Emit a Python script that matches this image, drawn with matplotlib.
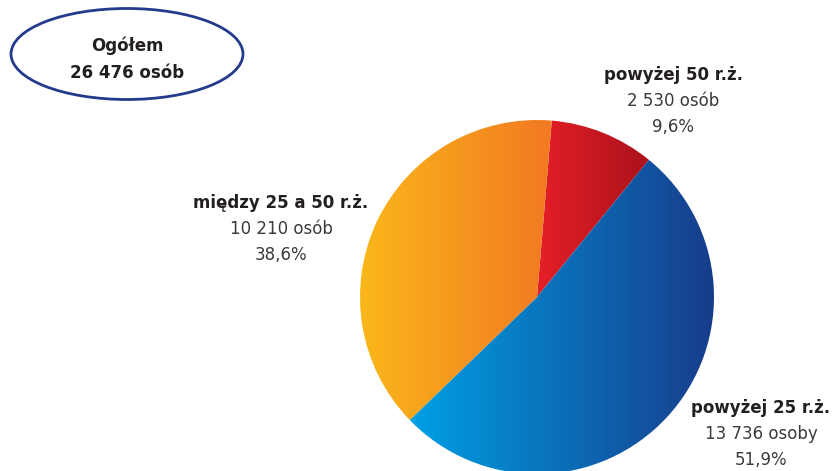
import matplotlib
matplotlib.use('Agg')
import matplotlib.pyplot as plt
import numpy as np
from matplotlib.colors import LinearSegmentedColormap
from matplotlib.patches import Ellipse

plt.rcParams['font.family'] = ['DejaVu Sans']

# data, in pie order (clockwise from the top)
GROUPS = ['powyżej 50 r.ż.', 'powyżej 25 r.ż.', 'między 25 a 50 r.ż.']
COUNTS = [2530, 13736, 10210]
COUNT_TEXT = ['2 530 osób', '13 736 osoby', '10 210 osób']
PERCENT_TEXT = ['9,6%', '51,9%', '38,6%']
TOTAL_TEXT = ['Ogółem', '26 476 osób']

# horizontal gradient (left colour, right colour) per slice
GRADIENTS = [('#e51f27', '#ab121b'), ('#00a0e4', '#173c8b'), ('#fab71a', '#f27922')]
# label anchor (x, y of first line) in pixel coords, y measured up
LABEL_POS = [(673, 396), (761, 63), (281, 268)]
LINE_STEP = 26

W, H = 832, 471
CENTER = (537, 174)
RADIUS = 177

fig = plt.figure(figsize=(W / 100, H / 100), dpi=100)
ax = fig.add_axes([0, 0, 1, 1])

wedges, _ = ax.pie(COUNTS, center=CENTER, radius=RADIUS, startangle=85.2,
                   counterclock=False, frame=True)

grad = np.linspace(0, 1, 256).reshape(1, -1)
for wedge, (c0, c1) in zip(wedges, GRADIENTS):
    ext = wedge.get_path().get_extents()
    cmap = LinearSegmentedColormap.from_list('g', [c0, c1])
    im = ax.imshow(grad, extent=(ext.x0, ext.x1, ext.y0, ext.y1), cmap=cmap,
                   aspect='auto', interpolation='bilinear', zorder=1)
    im.set_clip_path(wedge)
    wedge.set_facecolor('none')
    wedge.set_edgecolor('none')

FS = 12.0
for name, cnt, pct, (x, y) in zip(GROUPS, COUNT_TEXT, PERCENT_TEXT, LABEL_POS):
    ax.text(x, y, name, ha='center', va='center', fontsize=FS,
            fontweight='bold', color='#231f20')
    ax.text(x, y - LINE_STEP, cnt, ha='center', va='center', fontsize=FS,
            color='#3a3a3a')
    ax.text(x, y - 2 * LINE_STEP, pct, ha='center', va='center', fontsize=FS,
            color='#3a3a3a')

ax.add_patch(Ellipse((127, H - 54), 232, 91, facecolor='white',
                     edgecolor='#243a8c', linewidth=2.0))
ax.text(127, H - 46, TOTAL_TEXT[0], ha='center', va='center', fontsize=FS,
        fontweight='bold', color='#231f20')
ax.text(127, H - 73, TOTAL_TEXT[1], ha='center', va='center', fontsize=FS,
        fontweight='bold', color='#231f20')

ax.set_xlim(0, W)
ax.set_ylim(0, H)
ax.set_aspect('auto')
ax.axis('off')

fig.savefig('out.png', dpi=100)
